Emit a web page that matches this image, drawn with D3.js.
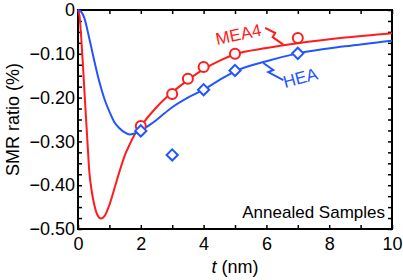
<!DOCTYPE html>
<html>
<head>
<meta charset="utf-8">
<script src="https://cdn.jsdelivr.net/npm/d3@7"></script>
<style>
  body { margin: 0; background: #fff; }
  svg text { font-family: "Liberation Sans", Arial, sans-serif; }
</style>
</head>
<body>
<svg id="chart" width="403" height="280"></svg>
<script>
// fitted curves
const meaT = [0, 0.05, 0.1, 0.17, 0.23, 0.3, 0.36, 0.44, 0.52, 0.62, 0.73, 0.85, 1.0, 1.15, 1.32, 1.5, 1.64, 1.8, 2.0, 2.5, 3.0, 3.5, 4.0, 4.5, 5.0, 6.0, 7.0, 8.5, 10];
const meaV = [0, -0.015, -0.06, -0.141, -0.217, -0.3, -0.369, -0.415, -0.445, -0.468, -0.476, -0.47, -0.445, -0.41, -0.369, -0.33, -0.308, -0.285, -0.265, -0.222, -0.188, -0.16, -0.135, -0.116, -0.101, -0.087, -0.076, -0.063, -0.053];
const heaT = [0, 0.1, 0.2, 0.36, 0.5, 0.68, 0.85, 1.0, 1.15, 1.32, 1.5, 1.64, 1.8, 2.0, 2.25, 2.5, 3.0, 3.5, 4.0, 4.5, 5.0, 6.0, 7.0, 8.5, 10];
const heaV = [0, -0.004, -0.018, -0.065, -0.11, -0.164, -0.205, -0.232, -0.255, -0.27, -0.28, -0.284, -0.282, -0.276, -0.264, -0.251, -0.222, -0.2, -0.182, -0.16, -0.14, -0.117, -0.099, -0.083, -0.07];

// measured samples
const meaPtT = [2, 3, 3.5, 4, 5, 7];
const meaPtV = [-0.265, -0.192, -0.157, -0.13, -0.1, -0.064];
const heaPtT = [2, 3, 4, 5, 7];
const heaPtV = [-0.276, -0.331, -0.182, -0.138, -0.099];

const xTickLabels = [0, 2, 4, 6, 8, 10];
const yTickLabels = [0, -0.1, -0.2, -0.3, -0.4, -0.5];

const red = "#ff1c1c";
const blue = "#2355ff";

const width = 403, height = 280;
const margin = {top: 10, right: 11, bottom: 51, left: 78};

const svg = d3.select("#chart");
const x = d3.scaleLinear().domain([0, 10]).range([margin.left, width - margin.right]);
const y = d3.scaleLinear().domain([-0.5, 0]).range([height - margin.bottom, margin.top]);

const toPts = (ts, vs) => ts.map((t, i) => [t, vs[i]]);

const line = d3.line()
  .x(d => x(d[0]))
  .y(d => y(d[1]))
  .curve(d3.curveMonotoneX);

// axes, ticks inward
const xMinor = d3.range(0, 10.01, 1);
const yMinor = d3.range(0, 21).map(i => -i * 0.025);

svg.append("g").attr("transform", `translate(0,${y(-0.5)})`)
  .call(d3.axisBottom(x).tickValues(xMinor).tickSize(-4).tickFormat(""));
svg.append("g").attr("transform", `translate(0,${y(-0.5)})`)
  .call(d3.axisBottom(x).tickValues(xTickLabels).tickSize(0).tickPadding(8)
    .tickFormat(d => d))
  .call(g => g.selectAll("text").attr("font-size", 18).attr("fill", "#000"));
svg.append("g").attr("transform", `translate(0,${y(0)})`)
  .call(d3.axisTop(x).tickValues(xMinor).tickSize(-4).tickFormat(""));

svg.append("g").attr("transform", `translate(${x(0)},0)`)
  .call(d3.axisLeft(y).tickValues(yMinor).tickSize(-4).tickFormat(""));
svg.append("g").attr("transform", `translate(${x(0)},0)`)
  .call(d3.axisLeft(y).tickValues(yTickLabels).tickSize(0).tickPadding(3)
    .tickFormat(d => d === 0 ? "0" : d3.format(".2f")(d)))
  .call(g => g.selectAll("text").attr("font-size", 18).attr("fill", "#000"));
svg.append("g").attr("transform", `translate(${x(10)},0)`)
  .call(d3.axisRight(y).tickValues(yMinor).tickSize(-4).tickFormat(""));

svg.selectAll(".domain").remove();
svg.selectAll(".tick line").attr("stroke", "#000").attr("stroke-width", 1.5);

svg.append("rect")
  .attr("x", x(0)).attr("y", y(0))
  .attr("width", x(10) - x(0)).attr("height", y(-0.5) - y(0))
  .attr("fill", "none").attr("stroke", "#000").attr("stroke-width", 2);

// axis titles
svg.append("text")
  .attr("transform", `translate(19,${(y(0) + y(-0.5)) / 2}) rotate(-90)`)
  .attr("text-anchor", "middle")
  .attr("font-size", 18)
  .text("SMR ratio (%)");

const xl = svg.append("text")
  .attr("x", x(5)).attr("y", 273)
  .attr("text-anchor", "middle")
  .attr("font-size", 18);
xl.append("tspan").attr("font-style", "italic").text("t");
xl.append("tspan").text(" (nm)");

svg.append("text")
  .attr("x", 385).attr("y", 218)
  .attr("text-anchor", "end")
  .attr("font-size", 17)
  .text("Annealed Samples");

// curves
const plot = svg.append("g");
plot.append("path").datum(toPts(meaT, meaV))
  .attr("d", line).attr("fill", "none").attr("stroke", red).attr("stroke-width", 2);
plot.append("path").datum(toPts(heaT, heaV))
  .attr("d", line).attr("fill", "none").attr("stroke", blue).attr("stroke-width", 2);

plot.selectAll("circle.mea").data(toPts(meaPtT, meaPtV)).enter()
  .append("circle")
  .attr("cx", d => x(d[0])).attr("cy", d => y(d[1])).attr("r", 5)
  .attr("fill", "#fff").attr("stroke", red).attr("stroke-width", 2);

const diamond = d3.symbol().type(d3.symbolDiamond2).size(80);
plot.selectAll("path.hea").data(toPts(heaPtT, heaPtV)).enter()
  .append("path")
  .attr("d", diamond)
  .attr("transform", d => `translate(${x(d[0])},${y(d[1])})`)
  .attr("fill", "#fff").attr("stroke", blue).attr("stroke-width", 2);

// labels with zigzag leaders
const leader = d3.line().x(d => x(d[0])).y(d => y(d[1]));
plot.append("path")
  .datum([[5.96, -0.041], [6.28, -0.0525], [6.2, -0.062], [6.54, -0.079]])
  .attr("d", leader).attr("fill", "none").attr("stroke", red).attr("stroke-width", 2);
plot.append("path")
  .datum([[5.9, -0.121], [6.22, -0.137], [6.06, -0.142], [6.54, -0.16]])
  .attr("d", leader).attr("fill", "none").attr("stroke", blue).attr("stroke-width", 2);

svg.append("text")
  .attr("transform", "translate(217,45) rotate(-12)")
  .attr("font-size", 17).attr("fill", red)
  .text("MEA4");
svg.append("text")
  .attr("transform", "translate(285,88) rotate(-15)")
  .attr("font-size", 17).attr("fill", blue)
  .text("HEA");
</script>
</body>
</html>
